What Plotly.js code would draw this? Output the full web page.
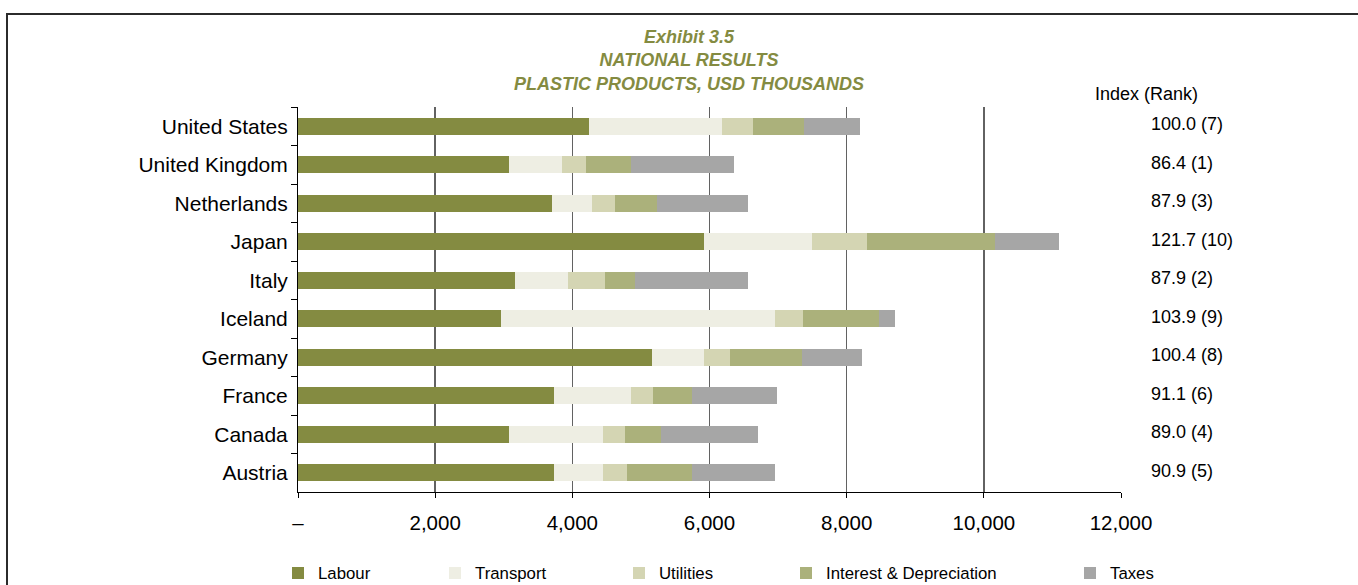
<!DOCTYPE html>
<html>
<head>
<meta charset="utf-8">
<script src="https://cdn.plot.ly/plotly-3.0.1.min.js"></script>
<style>
  html, body { margin: 0; padding: 0; background: #fff; overflow: hidden; }
  #chart { position: absolute; left: 0; top: 0; width: 1358px; height: 585px; }
  #frame { position: absolute; left: 6px; top: 13px; width: 1400px; height: 700px;
           border-top: 2px solid #2b2b2b; border-left: 2px solid #2b2b2b; pointer-events: none; }
</style>
</head>
<body>
<div id="chart"></div>
<div id="frame"></div>
<script>
// Cost components per country, USD thousands
const countries   = ['United States', 'United Kingdom', 'Netherlands', 'Japan', 'Italy',
                     'Iceland', 'Germany', 'France', 'Canada', 'Austria'];
const labour      = [4240, 3077, 3704, 5920, 3165, 2960, 5163, 3733, 3077, 3733];
const transport   = [1946,  773,  584, 1577,  771, 3996,  757, 1123, 1370,  714];
const utilities   = [ 448,  350,  335,  803,  540,  408,  380,  321,  322,  353];
const interestDep = [ 744,  660,  614, 1865,  438, 1109, 1053,  567,  528,  946];
const taxes       = [ 818, 1497, 1324,  932, 1646,  233,  874, 1244, 1410, 1210];

// Index value and rank shown beside each bar
const indexRank = ['100.0 (7)', '86.4 (1)', '87.9 (3)', '121.7 (10)', '87.9 (2)',
                   '103.9 (9)', '100.4 (8)', '91.1 (6)', '89.0 (4)', '90.9 (5)'];

// Axis ticks
const xTickVals = [0, 2000, 4000, 6000, 8000, 10000, 12000];
const xTickText = ['–', '2,000', '4,000', '6,000', '8,000', '10,000', '12,000'];

// Series names and colours
const seriesNames  = ['Labour', 'Transport', 'Utilities', 'Interest & Depreciation', 'Taxes'];
const seriesValues = [labour, transport, utilities, interestDep, taxes];
const seriesColors = ['#848b41', '#eeeee3', '#d4d5b3', '#abb17b', '#a6a6a6'];

const FONT = '"Liberation Sans", Arial, Helvetica, sans-serif';

// plot area in pixels: left 298, right 1121, top 107, bottom 492
const PLOT_L = 298, PLOT_W = 823, PLOT_T = 107, PLOT_H = 385;
const px2paperX = px => (px - PLOT_L) / PLOT_W;
const px2paperY = py => 1 - (py - PLOT_T) / PLOT_H;

// each legend entry gets its own legend box so the spacing follows the text widths
const legendLeft = [278, 435, 619, 786, 1070];
const legendIds  = ['legend', 'legend2', 'legend3', 'legend4', 'legend5'];

const traces = seriesNames.map((name, i) => ({
  type: 'bar',
  orientation: 'h',
  name: name,
  y: countries,
  x: seriesValues[i],
  marker: { color: seriesColors[i], line: { width: 0 } },
  legend: legendIds[i],
  hoverinfo: 'x+name'
}));

const annotations = countries.map((c, i) => ({
  xref: 'paper', yref: 'y',
  x: px2paperX(1149), y: c,
  text: indexRank[i],
  xanchor: 'left', yanchor: 'middle',
  yshift: 2,
  showarrow: false,
  font: { family: FONT, size: 18, color: '#000' }
}));
annotations.push({
  xref: 'paper', yref: 'paper',
  x: px2paperX(1093), y: px2paperY(94),
  text: 'Index (Rank)',
  xanchor: 'left', yanchor: 'middle',
  showarrow: false,
  font: { family: FONT, size: 18, color: '#000' }
});

const layout = {
  width: 1358, height: 585,
  margin: { l: PLOT_L, r: 1358 - PLOT_L - PLOT_W, t: PLOT_T, b: 585 - PLOT_T - PLOT_H, pad: 0 },
  paper_bgcolor: '#fff',
  plot_bgcolor: '#fff',
  barmode: 'stack',
  bargap: 0.57,
  font: { family: FONT, color: '#000' },
  title: {
    text: 'Exhibit 3.5<br>NATIONAL RESULTS<br>PLASTIC PRODUCTS, USD THOUSANDS',
    font: { family: FONT, size: 18, color: '#848b41', style: 'italic', weight: 'bold' },
    xref: 'paper', x: px2paperX(689), xanchor: 'center',
    yref: 'container', y: 1 - 43 / 585, yanchor: 'top'
  },
  xaxis: {
    range: [0, 12000],
    tickvals: xTickVals,
    ticktext: xTickText,
    ticks: 'outside', ticklen: 5, tickwidth: 1, tickcolor: '#000',
    showline: true, linecolor: '#000', linewidth: 1,
    showgrid: true, gridcolor: '#626262', gridwidth: 1.6,
    zeroline: false,
    ticklabelstandoff: 7,
    tickfont: { family: FONT, size: 20.5, color: '#000' },
    fixedrange: true
  },
  yaxis: {
    type: 'category',
    autorange: 'reversed',
    ticks: 'outside', tickson: 'boundaries', ticklen: 6, tickwidth: 1, tickcolor: '#000',
    showline: true, linecolor: '#000', linewidth: 1,
    showgrid: false, zeroline: false,
    ticklabelstandoff: 5,
    tickfont: { family: FONT, size: 21, color: '#000' },
    fixedrange: true
  },
  annotations: annotations,
  showlegend: true
};

legendIds.forEach((id, i) => {
  layout[id] = {
    orientation: 'h',
    xref: 'paper', x: px2paperX(legendLeft[i]), xanchor: 'left',
    yref: 'container', y: 12 / 585, yanchor: 'middle',
    bgcolor: 'rgba(0,0,0,0)', borderwidth: 0,
    itemwidth: 30,
    font: { family: FONT, size: 16.8, color: '#000' }
  };
});

Plotly.newPlot('chart', traces, layout, { displayModeBar: false, staticPlot: true });
</script>
</body>
</html>
